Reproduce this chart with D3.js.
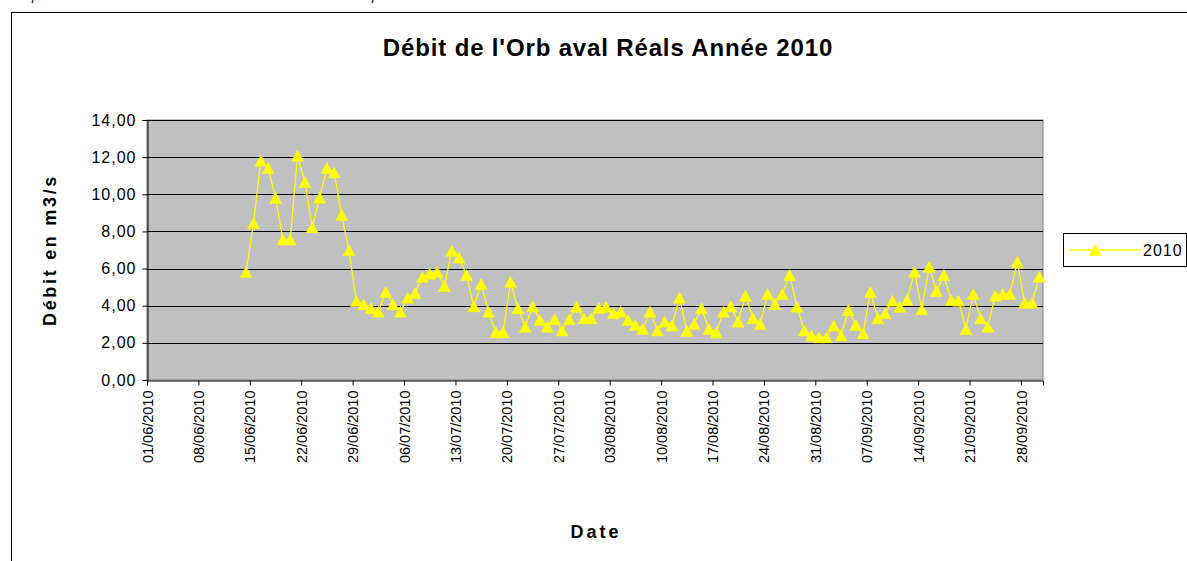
<!DOCTYPE html>
<html>
<head>
<meta charset="utf-8">
<script src="https://cdn.jsdelivr.net/npm/d3@7"></script>
<style>
  html, body { margin: 0; padding: 0; background: #fff; overflow: hidden; }
  svg { display: block; font-family: "Liberation Sans", Arial, sans-serif; }
</style>
</head>
<body>
<div id="chart"></div>
<script>
// --- data ---
const seriesName = "2010";
const firstDay = "2010-06-14";
const debit = [
  5.82, 8.45, 11.81, 11.42, 9.80, 7.56, 7.56, 12.08, 10.66, 8.22, 9.82, 11.42, 11.17, 8.89, 7.00,
  4.25, 4.07, 3.86, 3.68, 4.74, 4.07, 3.68, 4.43, 4.68, 5.56, 5.72, 5.83, 5.06, 6.96,
  6.59, 5.65, 3.97, 5.17, 3.68, 2.57, 2.57, 5.29, 3.86, 2.87, 3.97, 3.23, 2.87,
  3.27, 2.66, 3.27, 3.95, 3.32, 3.32, 3.89, 3.95, 3.59, 3.68, 3.23, 2.96, 2.75, 3.68,
  2.66, 3.14, 2.93, 4.43, 2.64, 3.02, 3.86, 2.75, 2.57, 3.68, 3.97, 3.14, 4.54, 3.32,
  3.02, 4.63, 4.09, 4.63, 5.65, 3.95, 2.66, 2.39, 2.30, 2.30, 2.93, 2.39, 3.77, 2.96,
  2.51, 4.74, 3.32, 3.59, 4.27, 3.95, 4.31, 5.83, 3.81, 6.10, 4.79, 5.65, 4.31, 4.27,
  2.75, 4.63, 3.32, 2.87, 4.54, 4.63, 4.63, 6.37, 4.16, 4.16, 5.56
];
const xTicks = [
  "2010-06-01", "2010-06-08", "2010-06-15", "2010-06-22", "2010-06-29",
  "2010-07-06", "2010-07-13", "2010-07-20", "2010-07-27",
  "2010-08-03", "2010-08-10", "2010-08-17", "2010-08-24", "2010-08-31",
  "2010-09-07", "2010-09-14", "2010-09-21", "2010-09-28"
];
const yTicks = [0, 2, 4, 6, 8, 10, 12, 14];
const dateRange = ["2010-06-01", "2010-10-01"];

const W = 1187, H = 561;
const plot = { left: 147, right: 1043, top: 120, bottom: 380 };
const FONT = "'Liberation Sans', Arial, sans-serif";

const parse = d3.utcParse("%Y-%m-%d");
const start = parse(firstDay);
const data = debit.map((v, i) => ({ date: d3.utcHour.offset(d3.utcDay.offset(start, i), 12), value: v }));

const svg = d3.select("#chart").append("svg")
    .attr("width", W).attr("height", H)
    .attr("viewBox", [0, 0, W, H]);

// chart area frame (runs off the window on the right and bottom)
svg.append("rect").attr("x", 11.5).attr("y", 12.5).attr("width", W + 20).attr("height", H + 20)
    .attr("fill", "#fff").attr("stroke", "#000").attr("stroke-width", 1);

// bits of the page text above the chart, cut by the window edge
svg.append("text").attr("x", 32).attr("y", 0).attr("font-size", 13).attr("font-style", "italic").text("p");
svg.append("text").attr("x", 372).attr("y", 0).attr("font-size", 13).attr("font-style", "italic").text("p");

const x = d3.scaleUtc().domain(dateRange.map(parse)).range([plot.left, plot.right]);
const y = d3.scaleLinear().domain([0, 14]).range([plot.bottom, plot.top]);

// plot background
svg.append("rect")
    .attr("x", plot.left).attr("y", plot.top)
    .attr("width", plot.right - plot.left).attr("height", plot.bottom - plot.top)
    .attr("fill", "#c0c0c0").attr("stroke", "#808080").attr("stroke-width", 1);

// gridlines
svg.append("g").selectAll("line").data(yTicks.filter(d => d > 0)).join("line")
    .attr("x1", plot.left).attr("x2", plot.right)
    .attr("y1", d => Math.round(y(d)) + 0.5).attr("y2", d => Math.round(y(d)) + 0.5)
    .attr("stroke", "#000").attr("stroke-width", 1);

const fr = d3.formatLocale({ decimal: ",", thousands: " ", grouping: [3], currency: ["", " €"] });

// y axis
const yAxis = svg.append("g")
    .attr("transform", `translate(${plot.left + 0.5},0)`)
    .call(d3.axisLeft(y).tickValues(yTicks).tickFormat(fr.format(".2f")).tickSize(5).tickPadding(6));
yAxis.select(".domain").attr("stroke", "#000");
yAxis.selectAll(".tick line").attr("stroke", "#000");
yAxis.selectAll(".tick text").attr("font-size", 16).attr("letter-spacing", 1)
    .attr("fill", "#000").attr("font-family", FONT);

// x axis
const xAxis = svg.append("g")
    .attr("transform", `translate(0,${plot.bottom + 0.5})`)
    .call(d3.axisBottom(x).tickValues(xTicks.map(parse)).tickFormat(d3.utcFormat("%d/%m/%Y")).tickSize(5));
xAxis.select(".domain").attr("stroke", "#000");
xAxis.selectAll(".tick line").attr("stroke", "#000");
xAxis.selectAll(".tick text")
    .attr("font-size", 14.5).attr("fill", "#000").attr("font-family", FONT)
    .attr("transform", "rotate(-90)")
    .attr("text-anchor", "end")
    .attr("x", -10).attr("y", 0).attr("dy", "0.35em");

// series
const line = d3.line().x(d => x(d.date)).y(d => y(d.value));
svg.append("path").datum(data)
    .attr("d", line).attr("fill", "none")
    .attr("stroke", "#ffff00").attr("stroke-width", 1.3);

const tri = "M0,-5.5L6,5.5L-6,5.5Z";
svg.append("g").selectAll("path").data(data).join("path")
    .attr("d", tri)
    .attr("transform", d => `translate(${x(d.date)},${y(d.value)})`)
    .attr("fill", "#ffff00").attr("stroke", "#ffff00").attr("stroke-width", 0.5);

// titles
svg.append("text")
    .attr("x", 608).attr("y", 56).attr("text-anchor", "middle")
    .attr("font-size", 24).attr("font-weight", "bold").attr("letter-spacing", 0.85)
    .text("Débit de l'Orb aval Réals Année 2010");

svg.append("text")
    .attr("transform", `translate(56,${(plot.top + plot.bottom) / 2}) rotate(-90)`)
    .attr("text-anchor", "middle")
    .attr("font-size", 18).attr("font-weight", "bold").attr("letter-spacing", 2.7)
    .text("Débit en m3/s");

svg.append("text")
    .attr("x", 596).attr("y", 538).attr("text-anchor", "middle")
    .attr("font-size", 18).attr("font-weight", "bold").attr("letter-spacing", 3)
    .text("Date");

// legend
const lg = svg.append("g").attr("transform", "translate(1063,233)");
lg.append("rect").attr("x", 0.5).attr("y", 0.5).attr("width", 123).attr("height", 33)
    .attr("fill", "#fff").attr("stroke", "#000");
lg.append("line").attr("x1", 6).attr("x2", 78).attr("y1", 17).attr("y2", 17)
    .attr("stroke", "#ffff00").attr("stroke-width", 1.3);
lg.append("path").attr("d", tri).attr("transform", "translate(32,17)")
    .attr("fill", "#ffff00").attr("stroke", "#ffff00").attr("stroke-width", 0.5);
lg.append("text").attr("x", 80).attr("y", 17).attr("dy", "0.35em")
    .attr("font-size", 16).attr("letter-spacing", 1).attr("font-family", FONT)
    .text(seriesName);
</script>
</body>
</html>
